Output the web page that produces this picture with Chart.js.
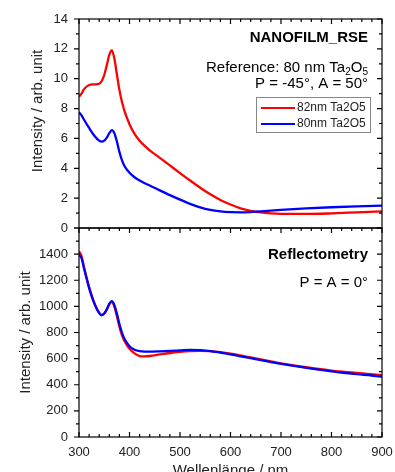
<!DOCTYPE html>
<html lang="de">
<head>
<meta charset="UTF-8">
<title>NANOFILM_RSE / Reflectometry</title>
<script src="https://cdn.jsdelivr.net/npm/chart.js"></script>
<style>
  html, body { margin: 0; padding: 0; background: #fff; overflow: hidden; }
  #wrap { position: relative; width: 395px; height: 472px; overflow: hidden; }
  #wrap canvas { position: absolute; left: 0; top: 0; }
</style>
</head>
<body>
<div id="wrap">
  <canvas id="grafRse" width="395" height="480"></canvas>
  <canvas id="grafRefl" width="395" height="480"></canvas>
</div>
<script>
// Wellenlänge in nm, gemeinsam für alle Kurven
const wellenlaenge = [300, 305, 310, 320, 330, 340, 345, 350, 355, 360, 365, 370, 375, 380, 385, 390, 400, 410, 420, 430,
  440, 460, 480, 500, 520, 540, 560, 580, 600, 620, 640, 660, 680, 700, 750, 800, 850, 900];

// NANOFILM_RSE (oben)
const rse82 = [8.8, 9.0, 9.3, 9.58, 9.62, 9.66, 9.85, 10.25, 10.9, 11.6, 11.9, 11.35, 10.3, 9.25, 8.45, 7.85, 6.95, 6.3, 5.85, 5.5,
  5.2, 4.7, 4.19, 3.68, 3.18, 2.7, 2.26, 1.88, 1.57, 1.32, 1.15, 1.04, 0.98, 0.95, 0.94, 0.98, 1.05, 1.12];
const rse80 = [7.75, 7.55, 7.25, 6.7, 6.2, 5.85, 5.78, 5.85, 6.05, 6.35, 6.55, 6.35, 5.8, 5.1, 4.55, 4.15, 3.7, 3.4, 3.18, 3.0,
  2.85, 2.52, 2.2, 1.9, 1.62, 1.38, 1.21, 1.11, 1.06, 1.05, 1.07, 1.11, 1.16, 1.21, 1.31, 1.39, 1.45, 1.5];

// Reflectometry (unten)
const refl82 = [1420, 1385, 1300, 1150, 1030, 950, 935, 945, 975, 1015, 1035, 1000, 925, 845, 780, 735, 675, 640, 620, 617,
  620, 632, 643, 651, 657, 660, 657, 649, 638, 624, 609, 594, 579, 564, 534, 508, 490, 474];
const refl80 = [1395, 1370, 1290, 1140, 1025, 948, 932, 945, 978, 1020, 1040, 1010, 945, 865, 800, 752, 695, 668, 657, 654,
  654, 656, 659, 663, 667, 665, 658, 646, 633, 618, 603, 588, 574, 560, 530, 503, 481, 463];

const serien = ['82nm Ta2O5', '80nm Ta2O5'];
const farben = ['#ff0000', '#0000ff'];

const FONT = "'Liberation Sans', Arial, sans-serif";
Chart.defaults.font.family = FONT;
Chart.defaults.color = '#222';

function punkte(werte) {
  return wellenlaenge.map((x, i) => ({ x: x, y: werte[i] }));
}

// Rahmen und Teilstriche (links außen, sonst innen)
const rahmen = {
  id: 'rahmen',
  afterDraw(chart, args, o) {
    const { ctx, chartArea: a } = chart;
    const sx = chart.scales.x, sy = chart.scales.y;
    ctx.save();
    ctx.strokeStyle = '#000';
    ctx.lineWidth = 1.2;
    ctx.strokeRect(a.left, a.top, a.right - a.left, a.bottom - a.top);
    ctx.beginPath();
    for (let v = sx.min; v <= sx.max; v += 20) {
      const px = sx.getPixelForValue(v);
      const len = v % 100 === 0 ? 5 : 3;
      if (o.oben) { ctx.moveTo(px, a.top); ctx.lineTo(px, a.top + len); }
      if (o.unten) { ctx.moveTo(px, a.bottom); ctx.lineTo(px, a.bottom - len); }
    }
    for (let v = sy.min; v <= sy.max + 1e-6; v += o.yMinor) {
      const py = sy.getPixelForValue(v);
      const len = Math.round(v / o.yMinor) % 2 === 0 ? 5 : 3;
      ctx.moveTo(a.left, py); ctx.lineTo(a.left - len, py);
      ctx.moveTo(a.right, py); ctx.lineTo(a.right - len, py);
    }
    ctx.stroke();
    ctx.restore();
  }
};

// Beschriftungen im Diagramm + Legende
const texte = {
  id: 'texte',
  afterDraw(chart, args, o) {
    const { ctx, chartArea: a } = chart;
    const xr = a.right - 14;
    ctx.save();
    ctx.fillStyle = '#000';
    ctx.textAlign = 'left';
    ctx.textBaseline = 'alphabetic';
    o.zeilen.forEach(z => {
      let breite = 0;
      z.teile.forEach(t => {
        ctx.font = (z.fett ? 'bold ' : '') + (t.sub ? '10px ' : '15px ') + FONT;
        breite += ctx.measureText(t.s).width;
      });
      let x = xr - breite;
      z.teile.forEach(t => {
        ctx.font = (z.fett ? 'bold ' : '') + (t.sub ? '10px ' : '15px ') + FONT;
        ctx.fillText(t.s, x, a.top + z.dy + (t.sub ? 3 : 0));
        x += ctx.measureText(t.s).width;
      });
    });
    if (o.legende) {
      const lx = a.right - 126, ly = a.top + 78;
      ctx.strokeStyle = '#888';
      ctx.lineWidth = 1;
      ctx.strokeRect(lx + 0.5, ly + 0.5, 114, 35);
      ctx.font = '12px ' + FONT;
      ctx.textBaseline = 'middle';
      serien.forEach((name, i) => {
        const y = ly + 11 + i * 16;
        ctx.strokeStyle = farben[i];
        ctx.lineWidth = 2.2;
        ctx.beginPath();
        ctx.moveTo(lx + 5, y);
        ctx.lineTo(lx + 39, y);
        ctx.stroke();
        ctx.fillStyle = '#222';
        ctx.fillText(name, lx + 41, y);
      });
    }
    ctx.restore();
  }
};

function datensaetze(rot, blau) {
  return [
    { label: serien[0], data: punkte(rot), borderColor: farben[0], order: 1 },
    { label: serien[1], data: punkte(blau), borderColor: farben[1], order: 0 }
  ].map(d => Object.assign(d, {
    borderWidth: 2.3, pointRadius: 0, fill: false, cubicInterpolationMode: 'monotone'
  }));
}

const yTitel = { size: 15 };

// oberes Diagramm: NANOFILM_RSE
new Chart(document.getElementById('grafRse'), {
  type: 'line',
  data: { datasets: datensaetze(rse82, rse80) },
  options: {
    responsive: false,
    animation: false,
    layout: { padding: { top: 19, right: 13, bottom: 252, left: 0 } },
    plugins: {
      legend: { display: false },
      tooltip: { enabled: false },
      rahmen: { oben: true, unten: false, yMinor: 1 },
      texte: {
        legende: true,
        zeilen: [
          { fett: true, dy: 23, teile: [{ s: 'NANOFILM_RSE' }] },
          { dy: 53, teile: [{ s: 'Reference: 80 nm Ta' }, { s: '2', sub: true }, { s: 'O' }, { s: '5', sub: true }] },
          { dy: 68.5, teile: [{ s: 'P = -45°, A = 50°' }] }
        ]
      }
    },
    scales: {
      x: { type: 'linear', min: 300, max: 900, display: false },
      y: {
        min: 0, max: 14,
        afterFit: s => { s.width = 79; },
        grid: { display: false, drawTicks: false },
        border: { display: false },
        ticks: { stepSize: 2, padding: 11, font: { size: 13 } },
        title: { display: true, text: '      Intensity / arb. unit', font: yTitel, padding: { top: 29, bottom: 0 } }
      }
    }
  },
  plugins: [rahmen, texte]
});

// unteres Diagramm: Reflectometry
new Chart(document.getElementById('grafRefl'), {
  type: 'line',
  data: { datasets: datensaetze(refl82, refl80) },
  options: {
    responsive: false,
    animation: false,
    layout: { padding: { top: 228, right: 13, bottom: 0, left: 0 } },
    plugins: {
      legend: { display: false },
      tooltip: { enabled: false },
      rahmen: { oben: true, unten: true, yMinor: 100 },
      texte: {
        legende: false,
        zeilen: [
          { fett: true, dy: 31, teile: [{ s: 'Reflectometry' }] },
          { dy: 58.5, teile: [{ s: 'P = A = 0°' }] }
        ]
      }
    },
    scales: {
      x: {
        type: 'linear', min: 300, max: 900,
        afterFit: s => { s.height = 43; s.paddingLeft = 0; s.paddingRight = 0; },
        grid: { display: false, drawTicks: false },
        border: { display: false },
        ticks: { stepSize: 100, padding: 8, font: { size: 13 } },
        title: { display: true, text: 'Wellenlänge / nm', font: { size: 15 }, padding: { top: 0, bottom: 0 } }
      },
      y: {
        min: 0, max: 1600,
        afterFit: s => { s.width = 79; },
        grid: { display: false, drawTicks: false },
        border: { display: false },
        ticks: { stepSize: 200, padding: 11, font: { size: 13 }, callback: v => (v >= 1600 ? '' : v) },
        title: { display: true, text: 'Intensity / arb. unit', font: yTitel, padding: { top: 17, bottom: 0 } }
      }
    }
  },
  plugins: [rahmen, texte]
});
</script>
</body>
</html>
